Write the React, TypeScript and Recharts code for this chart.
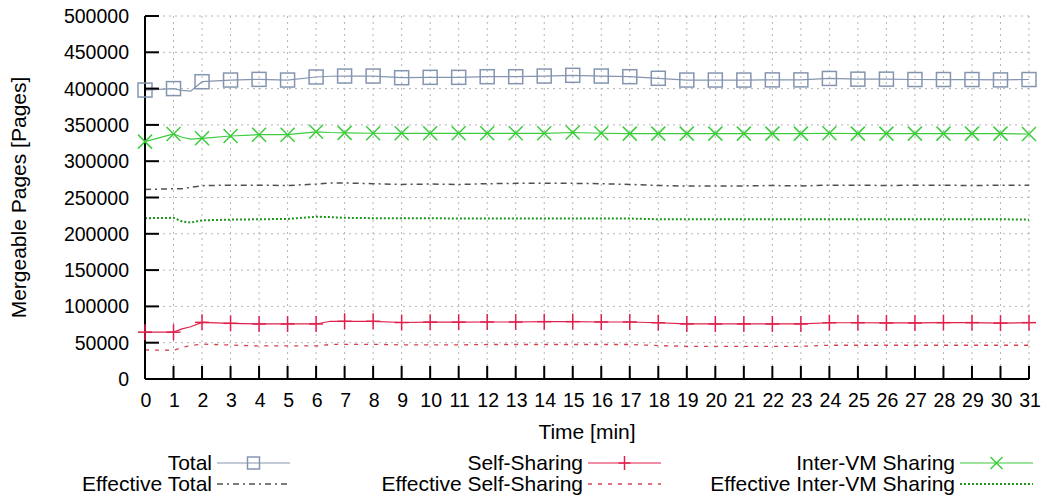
import { LineChart, Line, XAxis, YAxis, CartesianGrid, Label } from "recharts";

const time = [0, 1, 1.3, 1.6, 2, 3, 4, 5, 6, 6.5, 7, 8, 9, 10, 11, 12, 13, 14, 15, 16, 17, 18, 19, 20, 21, 22, 23, 24, 25, 26, 27, 28, 29, 30, 31];

const total = [398000, 400000, 397500, 396500, 409500, 411800, 412700, 411800, 416000, 417000, 417300, 417300, 415000, 415500, 415500, 416400, 416400, 417300, 418300, 417300, 416400, 414200, 411800, 411800, 411800, 412000, 412000, 414000, 413000, 413000, 412500, 412500, 412500, 412000, 412500];
const selfSharing = [64500, 64500, 69000, 72000, 78000, 76700, 75800, 75800, 75800, 79500, 79500, 79500, 77800, 78300, 78300, 78500, 78500, 79000, 79000, 78500, 78500, 77500, 75800, 75800, 75800, 75800, 75800, 77500, 77500, 77200, 77200, 77600, 77600, 77000, 77600];
const interVm = [327000, 337500, 333000, 330500, 331500, 334700, 336500, 336500, 340500, 339500, 339000, 338500, 338400, 338400, 338400, 338400, 338400, 338400, 339500, 338500, 338000, 338000, 338000, 338000, 338000, 338000, 338000, 338500, 338000, 338000, 338000, 338000, 338000, 338000, 337500];
const effTotal = [261000, 262000, 262000, 264000, 266300, 267000, 267000, 266500, 268500, 270000, 270000, 269000, 268000, 268500, 268000, 269000, 269500, 269500, 269500, 269000, 268000, 266500, 265800, 265800, 266000, 266500, 266000, 267000, 267000, 266500, 267000, 267000, 266500, 267000, 267000];
const effSelf = [40000, 39500, 43500, 46000, 48000, 46800, 45500, 45500, 45500, 47500, 47800, 47800, 47000, 47000, 47000, 47500, 47500, 47500, 47500, 47500, 47500, 46000, 45000, 45000, 45000, 45000, 45000, 46500, 46500, 46500, 46500, 46500, 46500, 46500, 46500];
const effInter = [221500, 222000, 217000, 215500, 218500, 219500, 220000, 220500, 223500, 223000, 222000, 221500, 221500, 221500, 221000, 221000, 221000, 221000, 221000, 221000, 221000, 220000, 220000, 220000, 220000, 220000, 220000, 220000, 220000, 220000, 220000, 220000, 220000, 220000, 219500];

const xTicks = [0, 1, 2, 3, 4, 5, 6, 7, 8, 9, 10, 11, 12, 13, 14, 15, 16, 17, 18, 19, 20, 21, 22, 23, 24, 25, 26, 27, 28, 29, 30, 31];
const yTicks = [0, 50000, 100000, 150000, 200000, 250000, 300000, 350000, 400000, 450000, 500000];

const data = time.map((t, i) => ({
  t,
  total: total[i],
  self: selfSharing[i],
  inter: interVm[i],
  effTotal: effTotal[i],
  effSelf: effSelf[i],
  effInter: effInter[i],
}));

const FONT = "'Liberation Sans', Arial, sans-serif";
const TICK_FS = 19.5;
const TEXT_FS = 21;
const C_TOTAL = "#8595b0";
const C_SELF = "#e0204c";
const C_INTER = "#3ccc3c";
const C_EFF_TOTAL = "#505050";
const C_EFF_SELF = "#d5404f";
const C_EFF_INTER = "#1e961e";

type Shape = "square" | "plus" | "cross" | "none";

function Marker({ cx, cy, shape, color, s = 7 }: { cx: number; cy: number; shape: Shape; color: string; s?: number }) {
  if (shape === "square")
    return <rect x={cx - s} y={cy - s} width={2 * s} height={2 * s} fill="none" stroke={color} strokeWidth={1.5} />;
  if (shape === "plus")
    return (
      <g stroke={color} strokeWidth={1.5}>
        <line x1={cx - s} x2={cx + s} y1={cy} y2={cy} />
        <line x1={cx} x2={cx} y1={cy - s - 1} y2={cy + s + 1} />
      </g>
    );
  if (shape === "cross")
    return (
      <g stroke={color} strokeWidth={1.5}>
        <line x1={cx - s} x2={cx + s} y1={cy - s} y2={cy + s} />
        <line x1={cx - s} x2={cx + s} y1={cy + s} y2={cy - s} />
      </g>
    );
  return null;
}

const dotFor = (shape: Shape, color: string) => (p: any) => {
  const key = `${shape}-${p.index}`;
  if (!Number.isInteger(p.payload.t)) return <g key={key} />;
  return (
    <g key={key}>
      <Marker cx={p.cx} cy={p.cy} shape={shape} color={color} />
    </g>
  );
};

const BottomTick = ({ x, y, payload }: any) => (
  <g>
    <line x1={x} x2={x} y1={y} y2={y - 13} stroke="#000" strokeWidth={2} />
    <text x={x + 1} y={y + 28} textAnchor="middle" fontSize={TICK_FS} fontFamily={FONT} fill="#000">
      {payload.value}
    </text>
  </g>
);
const TopTick = ({ x, y }: any) => <line x1={x} x2={x} y1={y} y2={y + 13} stroke="#000" strokeWidth={2} />;
const LeftTick = ({ x, y, payload }: any) => (
  <g>
    <line x1={x} x2={x + 14} y1={y} y2={y} stroke="#000" strokeWidth={2} />
    <text x={x - 16} y={y + 7} textAnchor="end" fontSize={TICK_FS} fontFamily={FONT} fill="#000">
      {payload.value}
    </text>
  </g>
);
const RightTick = ({ x, y }: any) => <line x1={x} x2={x - 14} y1={y} y2={y} stroke="#000" strokeWidth={2} />;

const legendItems = [
  { name: "Total", color: C_TOTAL, dash: undefined, width: 1.2, shape: "square" as Shape, col: 0, row: 0 },
  { name: "Effective Total", color: C_EFF_TOTAL, dash: "6 4 2 4", width: 1.5, shape: "none" as Shape, col: 0, row: 1 },
  { name: "Self-Sharing", color: C_SELF, dash: undefined, width: 1.2, shape: "plus" as Shape, col: 1, row: 0 },
  { name: "Effective Self-Sharing", color: C_EFF_SELF, dash: "4 6", width: 1.3, shape: "none" as Shape, col: 1, row: 1 },
  { name: "Inter-VM Sharing", color: C_INTER, dash: undefined, width: 1.2, shape: "cross" as Shape, col: 2, row: 0 },
  { name: "Effective Inter-VM Sharing", color: C_EFF_INTER, dash: "2 2", width: 2, shape: "none" as Shape, col: 2, row: 1 },
];
const legendTextRight = [212, 583, 955];
const legendRowY = [463, 484];

function ChartLegend() {
  return (
    <svg width={1047} height={498} style={{ position: "absolute", left: 0, top: 0, pointerEvents: "none" }}>
      {legendItems.map((it) => {
        const xr = legendTextRight[it.col];
        const y = legendRowY[it.row];
        const x1 = xr + 5;
        const x2 = xr + 78;
        return (
          <g key={it.name}>
            <text x={xr} y={y + 7} textAnchor="end" fontSize={TEXT_FS} fontFamily={FONT} fill="#000">
              {it.name}
            </text>
            <line x1={x1} x2={x2} y1={y} y2={y} stroke={it.color} strokeWidth={it.width} strokeDasharray={it.dash} />
            <Marker cx={(x1 + x2) / 2} cy={y} shape={it.shape} color={it.color} s={6} />
          </g>
        );
      })}
    </svg>
  );
}

export default function App() {
  return (
    <div style={{ position: "absolute", left: 0, top: 0, width: 1047, height: 498, background: "#fff" }}>
      <LineChart width={1047} height={498} data={data} margin={{ top: 16, right: 18, bottom: 59, left: 0 }}>
        <CartesianGrid stroke="#b4b4b4" strokeDasharray="2 4" strokeWidth={1} />
        <XAxis
          dataKey="t"
          type="number"
          domain={[0, 31]}
          ticks={xTicks}
          interval={0}
          height={60}
          tickSize={0}
          tickMargin={0}
          tickLine={false}
          axisLine={{ stroke: "#000", strokeWidth: 2 }}
          tick={<BottomTick />}
        >
          <Label
            content={({ viewBox }: any) => (
              <text
                x={viewBox.x + viewBox.width / 2}
                y={viewBox.y + 60}
                textAnchor="middle"
                fontSize={TEXT_FS}
                fontFamily={FONT}
                fill="#000"
              >
                Time [min]
              </text>
            )}
          />
        </XAxis>
        <XAxis
          xAxisId="top"
          dataKey="t"
          type="number"
          orientation="top"
          domain={[0, 31]}
          ticks={xTicks}
          interval={0}
          height={0}
          tickSize={0}
          tickMargin={0}
          tickLine={false}
          axisLine={{ stroke: "#000", strokeWidth: 2 }}
          tick={<TopTick />}
        />
        <YAxis
          type="number"
          domain={[0, 500000]}
          ticks={yTicks}
          interval={0}
          width={145}
          tickSize={0}
          tickMargin={0}
          tickLine={false}
          axisLine={{ stroke: "#000", strokeWidth: 2 }}
          tick={<LeftTick />}
        >
          <Label
            content={({ viewBox }: any) => {
              const cx = 26;
              const cy = viewBox.y + viewBox.height / 2;
              return (
                <text
                  x={cx}
                  y={cy}
                  transform={`rotate(-90, ${cx}, ${cy})`}
                  textAnchor="middle"
                  fontSize={TEXT_FS}
                  fontFamily={FONT}
                  fill="#000"
                >
                  Mergeable Pages [Pages]
                </text>
              );
            }}
          />
        </YAxis>
        <YAxis
          yAxisId="right"
          orientation="right"
          type="number"
          domain={[0, 500000]}
          ticks={yTicks}
          interval={0}
          width={0}
          tickSize={0}
          tickMargin={0}
          tickLine={false}
          axisLine={{ stroke: "#000", strokeWidth: 2 }}
          tick={<RightTick />}
        />
        <Line dataKey="effTotal" stroke={C_EFF_TOTAL} strokeWidth={1.5} strokeDasharray="6 4 2 4" dot={false} isAnimationActive={false} />
        <Line dataKey="effInter" stroke={C_EFF_INTER} strokeWidth={2} strokeDasharray="2 2" dot={false} isAnimationActive={false} />
        <Line dataKey="effSelf" stroke={C_EFF_SELF} strokeWidth={1.3} strokeDasharray="4 6" dot={false} isAnimationActive={false} />
        <Line dataKey="total" stroke={C_TOTAL} strokeWidth={1.2} dot={dotFor("square", C_TOTAL)} isAnimationActive={false} />
        <Line dataKey="self" stroke={C_SELF} strokeWidth={1.2} dot={dotFor("plus", C_SELF)} isAnimationActive={false} />
        <Line dataKey="inter" stroke={C_INTER} strokeWidth={1.2} dot={dotFor("cross", C_INTER)} isAnimationActive={false} />
      </LineChart>
      <ChartLegend />
    </div>
  );
}
